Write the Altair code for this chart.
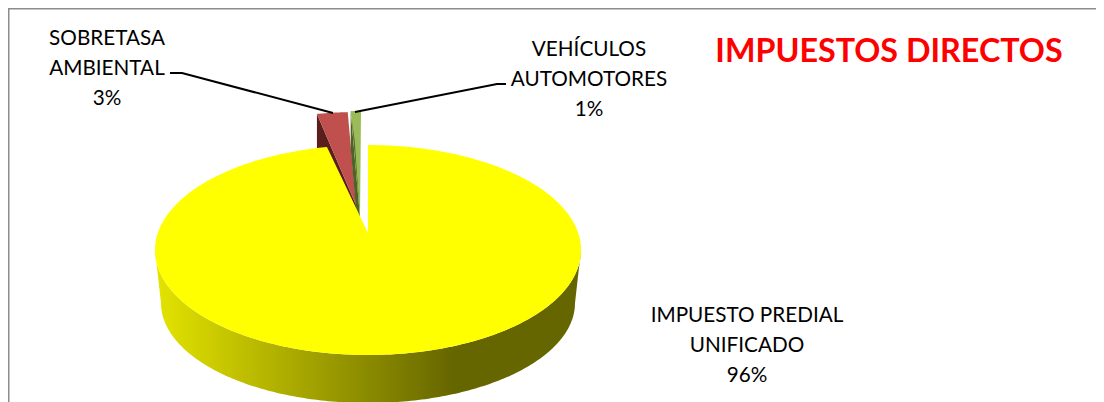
import math
import numpy as np
import altair as alt

categories = ["IMPUESTO PREDIAL UNIFICADO", "SOBRETASA AMBIENTAL", "VEHÍCULOS AUTOMOTORES"]
shares = [96, 3, 1]
slice_colors = ["#FFFF00", "#C0504D", "#9BBB59"]
wall_colors = ["#666600", "#5A1F1D", "#4F6228"]
label_lines = [
    ["IMPUESTO PREDIAL", "UNIFICADO", "96%"],
    ["SOBRETASA", "AMBIENTAL", "3%"],
    ["VEHÍCULOS", "AUTOMOTORES", "1%"],
]
label_pos = [(739, 308), (99, 31), (581, 42)]
title_text = "IMPUESTOS DIRECTOS"

# layout (plot-area pixels = page pixels - 8)
CX, CY, RX, RY = 360, 242, 213, 105
BCY, BRX, BRY = 295, 207, 100
KF = 0.77
APEX = [(360, 225), (348, 197), (352, 209)]
RIM = [(360, 242), (350, 209), (353, 208)]
DEPTH = 38


def persp(deg):
    """Clockwise angle from the far point -> ellipse parameter (foreshortened far side)."""
    a = (deg + 180) % 360 - 180
    return 2 * math.degrees(math.atan(KF * math.tan(math.radians(a) / 2)))


def rim(center, a0, a1, rx=RX, ry=RY, n=240):
    pts = []
    for a in np.linspace(a0, a1, n):
        t = math.radians(persp(float(a)))
        pts.append([center[0] + rx * math.sin(t), center[1] - ry * math.cos(t)])
    return pts


def poly(pts):
    pts = [list(map(float, p)) for p in pts]
    return {"type": "Feature", "properties": {},
            "geometry": {"type": "Polygon", "coordinates": [pts + [pts[0]]]}}


def shape(pts, fill):
    return (alt.Chart(alt.Data(values=[poly(pts)]))
            .mark_geoshape(filled=True, fill=fill, stroke="transparent", strokeWidth=0)
            .project(type="identity", scale=1, translate=[0, 0]))


cum = np.cumsum([0] + [s * 3.6 for s in shares])
spans = [(cum[i], cum[i + 1]) for i in range(3)]

layers = []

# frame
frame = alt.Data(values=[{"x": 0.5, "y": 394, "o": 0}, {"x": 0.5, "y": 0.5, "o": 1}, {"x": 1088, "y": 0.5, "o": 2}])
layers.append(alt.Chart(frame).mark_line(color="#8C8C8C", strokeWidth=2).encode(
    x=alt.X("x:Q", scale=None, axis=None), y=alt.Y("y:Q", scale=None, axis=None), order="o:Q"))

# small exploded slices: cut wall behind, top in front
for i in (1, 2):
    a0, a1 = spans[i]
    r = rim(RIM[i], a0, a1, n=30)
    ax, ay = APEX[i]
    lx, ly = r[0]
    layers.append(shape([[lx, ly], [ax, ay], [ax, ay + DEPTH], [lx, ly + DEPTH]], wall_colors[i]))
    layers.append(shape([[ax, ay]] + r, slice_colors[i]))
# the green slice's inner wall sliver
ax, ay = APEX[2]
lx, ly = rim(RIM[2], *spans[2], n=2)[0]
layers.append(shape([[lx + 1, ly + 8], [ax, ay], [lx + 4, ly + 30]], wall_colors[2]))
# big slice wall
upper = [[CX + RX * math.sin(t), CY - RY * math.cos(t)] for t in np.radians(np.linspace(90, 270, 181))]
lower = [[CX + BRX * math.sin(t), BCY - BRY * math.cos(t)] for t in np.radians(np.linspace(270, 90, 181))]
wall_fill = alt.Gradient(gradient="linear", x1=0, x2=1, y1=0, y2=0, stops=[
    alt.GradientStop(offset=0, color="#E4E400"),
    alt.GradientStop(offset=0.7, color="#666600"),
    alt.GradientStop(offset=1, color="#666600"),
])
layers.append(shape(upper + lower, wall_fill))
# big slice top
layers.append(shape([list(APEX[0])] + rim(RIM[0], *spans[0], n=360), slice_colors[0]))

# leader lines
lead1 = alt.Data(values=[{"x": 162, "y": 65, "o": 0}, {"x": 174, "y": 65, "o": 1}, {"x": 325, "y": 105, "o": 2}])
lead2 = alt.Data(values=[{"x": 347, "y": 104, "o": 0}, {"x": 489, "y": 76, "o": 1}, {"x": 498, "y": 76, "o": 2}])
for d in (lead1, lead2):
    layers.append(alt.Chart(d).mark_line(color="black", strokeWidth=2).encode(
        x=alt.X("x:Q", scale=None, axis=None), y=alt.Y("y:Q", scale=None, axis=None), order="o:Q"))

# labels
rows = []
for lines, (x, y) in zip(label_lines, label_pos):
    for j, t in enumerate(lines):
        rows.append({"x": x, "y": y + j * 30, "t": t})
layers.append(alt.Chart(alt.Data(values=rows)).mark_text(font="Lato", fontSize=20.7, color="black", align="center", baseline="middle").encode(
    x=alt.X("x:Q", scale=None, axis=None), y=alt.Y("y:Q", scale=None, axis=None), text="t:N"))
layers.append(alt.Chart(alt.Data(values=[{"x": 881, "y": 44, "t": title_text}])).mark_text(
    font="Lato", fontSize=32.3, fontWeight="bold", color="#FF0000", align="center", baseline="middle").encode(
    x=alt.X("x:Q", scale=None, axis=None), y=alt.Y("y:Q", scale=None, axis=None), text="t:N"))

chart = (alt.layer(*layers)
         .properties(width=1088, height=394, padding=0, autosize="none")
         .configure_view(stroke=None))
chart.save("out.html", embed_options={"renderer": "svg", "actions": False})
